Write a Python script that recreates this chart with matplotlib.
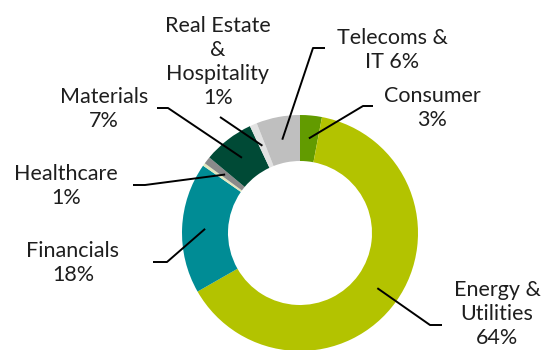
import numpy as np
import matplotlib
matplotlib.use("Agg")
import matplotlib.pyplot as plt

# Sector allocation, clockwise from 12 o'clock
sectors = ["Consumer", "Energy & Utilities", "Financials", "Other",
           "Healthcare", "Materials", "Real Estate & Hospitality", "Telecoms & IT"]
weights = [3, 64, 18, 0.4, 1, 7, 1, 6]
colors = ["#629B00", "#B3C300", "#008C95", "#E3E8BE",
          "#8A8A8A", "#004A36", "#E2E2E2", "#BFBFBF"]

# Label text, placement (text centre) and leader-line end/elbow, in pixel units
labels = {
    "Consumer": ("Consumer\n3%", (432, 108), [(373, 106), (363, 106)]),
    "Energy & Utilities": ("Energy &\nUtilities\n64%", (497, 314), [(442, 325), (430, 325)]),
    "Financials": ("Financials\n18%", (73, 263), [(153, 262), (167, 262)]),
    "Healthcare": ("Healthcare\n1%", (66, 186), [(133, 185), (145, 185)]),
    "Materials": ("Materials\n7%", (104, 109), [(157, 108), (168, 108)]),
    "Real Estate & Hospitality": ("Real Estate\n&\nHospitality\n1%", (218, 62), [(220, 117)]),
    "Telecoms & IT": ("Telecoms &\nIT 6%", (392, 50), [(325, 48), (313, 48)]),
}

W, H = 547, 350
fig = plt.figure(figsize=(W / 100, H / 100), dpi=100)
ax = fig.add_axes([0, 0, 1, 1])

cx, cy_img = 300, 233
R_out, R_in = 118, 72
center = (cx, H - cy_img)

ax.pie(weights, colors=colors, startangle=90, counterclock=False,
       radius=R_out, center=center, frame=True,
       wedgeprops=dict(width=R_out - R_in, linewidth=0))
ax.set_xlim(0, W)
ax.set_ylim(0, H)
ax.set_aspect("equal")
ax.axis("off")

total = sum(weights)
cum = np.cumsum([0] + weights)
r_mid = (R_out + R_in) / 2

for i, name in enumerate(sectors):
    if name not in labels:
        continue
    text, (tx, ty), ends = labels[name]
    frac = (cum[i] + weights[i] / 2) / total
    ang = 2 * np.pi * frac
    anchor = (cx + r_mid * np.sin(ang), H - (cy_img - r_mid * np.cos(ang)))
    pts = [anchor] + [(x, H - y) for x, y in ends[::-1]]
    xs, ys = zip(*pts)
    ax.plot(xs, ys, color="black", lw=1.4, solid_capstyle="butt")
    ax.text(tx, H - ty, text, ha="center", va="center", fontsize=15.5,
            family="Lato", color="#1E1E1E", linespacing=1.27)

fig.savefig("out.png", dpi=100)
